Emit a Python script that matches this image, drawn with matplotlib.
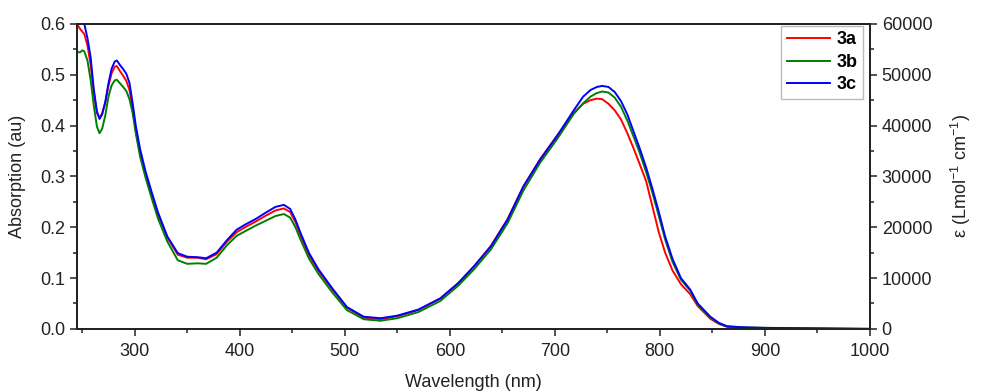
import matplotlib
matplotlib.use("Agg")
import matplotlib.pyplot as plt
from matplotlib.ticker import MultipleLocator

plt.rcParams['font.family'] = ['Liberation Sans', 'DejaVu Sans']
plt.rcParams['mathtext.fontset'] = 'custom'
plt.rcParams['mathtext.rm'] = 'Liberation Sans'

wavelength = [245, 248, 250, 252, 255, 258, 261, 264, 266.5, 269,
              272, 275, 278, 281, 283, 286, 289, 292, 295, 298,
              301, 305, 310, 316, 322, 331, 341, 350, 360, 368,
              378, 388, 397, 405, 415, 425, 434, 442, 448, 453,
              458, 466, 475, 488, 502, 518, 534, 550, 570, 591,
              608, 623, 639, 655, 670, 686, 702, 718, 727, 734,
              740, 745, 751, 757, 763, 769, 775, 781, 787, 793,
              799, 805, 812, 820, 829, 836, 848, 856, 864, 880,
              900, 950, 1000]

abs_3a = [0.60, 0.59, 0.585, 0.58, 0.558, 0.52, 0.465, 0.425, 0.415, 0.424,
          0.445, 0.478, 0.503, 0.516, 0.517, 0.507, 0.498, 0.488, 0.47, 0.435,
          0.39, 0.345, 0.305, 0.265, 0.226, 0.18, 0.146, 0.14, 0.14, 0.137,
          0.147, 0.172, 0.19, 0.2, 0.211, 0.223, 0.233, 0.237, 0.23, 0.21,
          0.183, 0.145, 0.114, 0.078, 0.042, 0.022, 0.019, 0.025, 0.037, 0.06,
          0.09, 0.123, 0.163, 0.216, 0.28, 0.334, 0.38, 0.425, 0.443, 0.45,
          0.453, 0.452, 0.443, 0.43, 0.412, 0.385, 0.355, 0.323, 0.29, 0.24,
          0.19, 0.15, 0.115, 0.088, 0.068, 0.045, 0.02, 0.01, 0.004, 0.002,
          0.001, 0.0, 0.0]

abs_3b = [0.545, 0.544, 0.548, 0.546, 0.528, 0.49, 0.44, 0.398, 0.385, 0.394,
          0.42, 0.457, 0.479, 0.489, 0.49, 0.483, 0.476, 0.468, 0.452, 0.425,
          0.385, 0.34, 0.30, 0.258, 0.218, 0.172, 0.135, 0.128, 0.129, 0.128,
          0.14, 0.165, 0.183, 0.192, 0.203, 0.213, 0.222, 0.226, 0.219, 0.20,
          0.175, 0.138, 0.108, 0.072, 0.037, 0.019, 0.016, 0.021, 0.033, 0.055,
          0.085, 0.117, 0.156, 0.208, 0.272, 0.327, 0.373, 0.423, 0.444, 0.457,
          0.464, 0.467, 0.465, 0.455, 0.437, 0.41, 0.378, 0.345, 0.308, 0.267,
          0.222, 0.176, 0.132, 0.097, 0.075, 0.048, 0.023, 0.011, 0.005, 0.003,
          0.002, 0.001, 0.0]

abs_3c = [0.64, 0.63, 0.62, 0.60, 0.572, 0.535, 0.472, 0.428, 0.413, 0.422,
          0.447, 0.483, 0.512, 0.526, 0.528, 0.519, 0.511, 0.502, 0.484, 0.444,
          0.40, 0.355, 0.312, 0.27, 0.23, 0.182, 0.149, 0.142, 0.141, 0.139,
          0.15, 0.175, 0.195, 0.205, 0.216, 0.229, 0.24, 0.244, 0.236, 0.215,
          0.188, 0.149, 0.117, 0.08, 0.043, 0.024, 0.021, 0.026, 0.038, 0.06,
          0.09, 0.123, 0.162, 0.215, 0.28, 0.333, 0.379, 0.43, 0.457, 0.47,
          0.476, 0.478, 0.476, 0.466, 0.448, 0.422, 0.388, 0.354, 0.317, 0.275,
          0.23, 0.182, 0.138, 0.10, 0.077, 0.05, 0.024, 0.012, 0.005, 0.003,
          0.002, 0.001, 0.0]

labels = ["3a", "3b", "3c"]
colors = ["#ff0000", "#008000", "#0000ff"]

fig = plt.figure(figsize=(10.02, 3.92), dpi=100)
ax = fig.add_axes([0.0768, 0.161, 0.7914, 0.778])

for y, lab, c in zip([abs_3a, abs_3b, abs_3c], labels, colors):
    ax.plot(wavelength, y, color=c, lw=1.4, label=lab)

ax.set_xlim(245, 1000)
ax.set_ylim(0, 0.6)
ax.xaxis.set_major_locator(MultipleLocator(100))
ax.xaxis.set_minor_locator(MultipleLocator(50))
ax.yaxis.set_major_locator(MultipleLocator(0.1))
ax.yaxis.set_minor_locator(MultipleLocator(0.05))
ax.yaxis.set_major_formatter(plt.FuncFormatter(lambda v, p: f"{v:.1f}"))
ax.set_xlabel("Wavelength (nm)", fontsize=13, color="#222222", labelpad=10)
ax.set_ylabel("Absorption (au)", fontsize=13, color="#222222", labelpad=10)

ax2 = ax.twinx()
ax2.set_ylim(0, 60000)
ax2.yaxis.set_major_locator(MultipleLocator(10000))
ax2.yaxis.set_minor_locator(MultipleLocator(5000))
ax2.set_ylabel(r"ε (Lmol$^{-1}$ cm$^{-1}$)", fontsize=13, color="#222222",
               labelpad=12)

for a in (ax, ax2):
    for s in a.spines.values():
        s.set_linewidth(1.3)
        s.set_color("#222222")
    a.tick_params(which="both", direction="out", labelsize=13,
                  colors="#222222", width=1.1)
    a.tick_params(which="major", length=5)
    a.tick_params(which="minor", length=3)
ax.tick_params(axis="x", pad=5)

leg = ax.legend(loc="upper right", bbox_to_anchor=(0.991, 0.993),
                borderaxespad=0, fancybox=False, edgecolor="#aaaaaa",
                handlelength=2.4, borderpad=0.3, labelspacing=0.3,
                handletextpad=0.35, prop={"weight": "bold", "size": 13})
leg.get_frame().set_linewidth(1.0)

fig.savefig("out.png", dpi=100)
